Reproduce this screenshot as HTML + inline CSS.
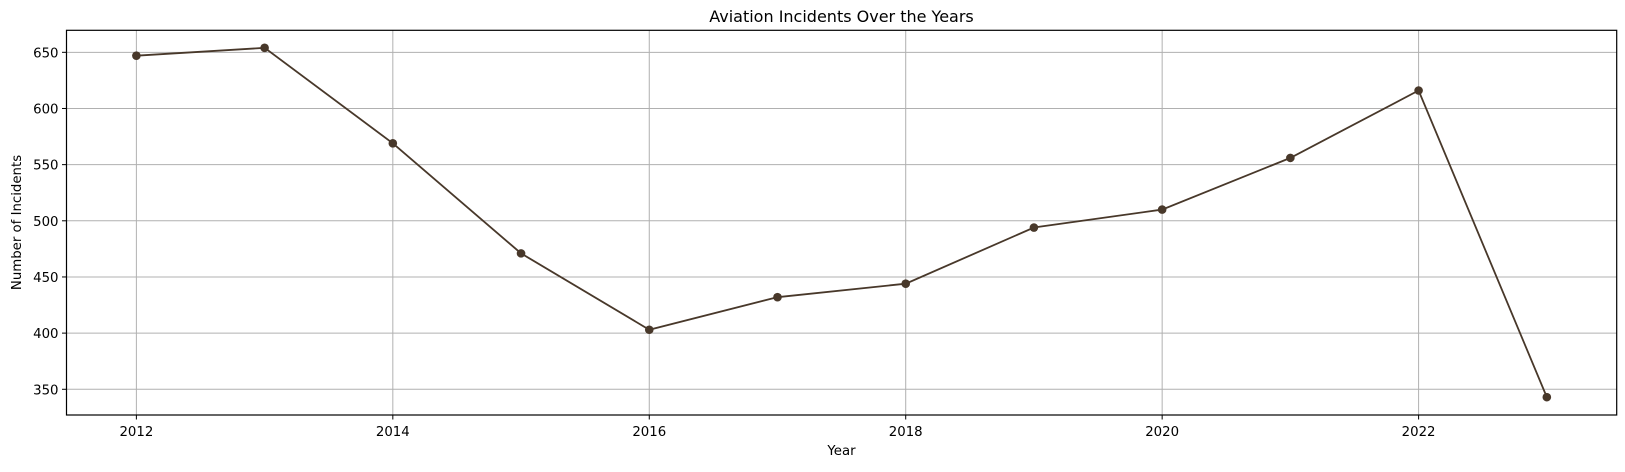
<!DOCTYPE html>
<html><head><meta charset="utf-8"><style>
body{margin:0;background:#fff;font-family:"DejaVu Sans","Liberation Sans",sans-serif;}
svg text{font-family:"DejaVu Sans","Liberation Sans",sans-serif;}
</style></head><body>
<svg id="chart" width="1625" height="468" xmlns="http://www.w3.org/2000/svg">
<text x="841.5" y="22" text-anchor="middle" font-size="16">Aviation Incidents Over the Years</text>
<text x="841.5" y="455" text-anchor="middle" font-size="13.3">Year</text>
<text transform="translate(21,222.5) rotate(-90)" text-anchor="middle" font-size="13.3">Number of Incidents</text>
<g id="grid"></g>
<g id="ticks"></g>
<g id="series"></g>
<rect x="66.5" y="30.3" width="1550.2" height="384.7" fill="none" stroke="#000" stroke-width="1.2"/>
</svg>
<script>
const years = [2012,2013,2014,2015,2016,2017,2018,2019,2020,2021,2022,2023];
const incidents = [647,654,569,471,403,432,444,494,510,556,616,343];
const xTicks = [2012,2014,2016,2018,2020,2022];
const yTicks = [350,400,450,500,550,600,650];

const L=66.5,R=1616.7,T=30.3,B=415;
const xMin=2011.455,xMax=2023.545,yMin=327.1,yMax=669.6;
const xs=v=>L+(v-xMin)/(xMax-xMin)*(R-L);
const ys=v=>B-(v-yMin)/(yMax-yMin)*(B-T);
const NS="http://www.w3.org/2000/svg";
function mk(tag,attrs,parent){const e=document.createElementNS(NS,tag);for(const k in attrs)e.setAttribute(k,attrs[k]);parent.appendChild(e);return e;}
const grid=document.getElementById('grid'),ticks=document.getElementById('ticks'),series=document.getElementById('series');
xTicks.forEach(t=>{
  const x=xs(t);
  const g=mk('line',{x1:x,x2:x,y1:T,y2:B,stroke:'#b0b0b0','stroke-width':1},grid);
  
  
  mk('line',{x1:x,x2:x,y1:B,y2:B+4.5,stroke:'#000','stroke-width':1},ticks);
  const tx=mk('text',{x:x,y:B+21,'text-anchor':'middle','font-size':13.3},ticks);
  tx.textContent=t;
  
  
});
yTicks.forEach(t=>{
  const y=ys(t);
  const g=mk('line',{x1:L,x2:R,y1:y,y2:y,stroke:'#b0b0b0','stroke-width':1},grid);
  
  
  mk('line',{x1:L-4.5,x2:L,y1:y,y2:y,stroke:'#000','stroke-width':1},ticks);
  const tx=mk('text',{x:L-8,y:y+5,'text-anchor':'end','font-size':13.3},ticks);
  tx.textContent=t;
  
  
});
const pts=years.map((y,i)=>xs(y)+','+ys(incidents[i])).join(' ');
const pl=mk('polyline',{points:pts,fill:'none',stroke:'#48382a','stroke-width':1.8},series);


years.forEach((y,i)=>{
  const c=mk('circle',{cx:xs(y),cy:ys(incidents[i]),r:4.3,fill:'#48382a'},series);
  
  
});
</script>
</body></html>
